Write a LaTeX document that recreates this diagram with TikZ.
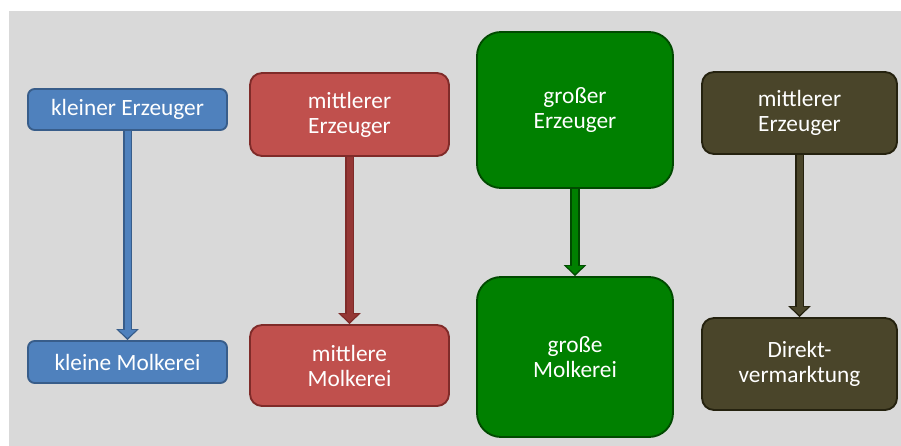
\documentclass[tikz,border=0pt]{standalone}
\usepackage{fontspec}
\setmainfont{Carlito}
\usetikzlibrary{arrows.meta,backgrounds}

\definecolor{bgGray}{HTML}{D9D9D9}
\definecolor{blueFill}{HTML}{4F81BD}
\definecolor{blueLine}{HTML}{385D8A}
\definecolor{redFill}{HTML}{C0504D}
\definecolor{redLine}{HTML}{7F2B29}
\definecolor{redArrow}{HTML}{953735}
\definecolor{greenFill}{HTML}{008000}
\definecolor{greenLine}{HTML}{004A00}
\definecolor{brownFill}{HTML}{4A452A}
\definecolor{brownLine}{HTML}{25220F}

\begin{document}
\begin{tikzpicture}[
    x=0.75pt, y=-0.75pt,
    box/.style={draw, line width=1.4pt, align=center, text=white, inner sep=0pt,
                font=\fontsize{17.5}{18.75}\selectfont},
    flow/.style 2 args={draw=#1, line width=4.5pt, shorten >=1.6pt,
                -{Triangle[width=12.75pt,length=6pt]},
                preaction={draw=#2, line width=7pt, shorten >=0pt,
                           -{Triangle[width=16.5pt,length=8.25pt]}}}
]
\useasboundingbox (0,0) rectangle (901,446);

% small producer
\node[box, fill=blueFill, draw=blueLine, rounded corners=5pt,
      minimum width=149.25pt, minimum height=30.75pt] (smallProd) at (127.5,109.5) {kleiner Erzeuger};
\node[box, fill=blueFill, draw=blueLine, rounded corners=5pt,
      minimum width=149.25pt, minimum height=31.5pt] (smallDairy) at (127.5,362) {kleine Molkerei};

% medium producer
\node[box, fill=redFill, draw=redLine, rounded corners=9pt,
      minimum width=149.25pt, minimum height=62.25pt] (midProd) at (349.5,114.5) {mittlerer\\Erzeuger};
\node[box, fill=redFill, draw=redLine, rounded corners=9pt,
      minimum width=149.25pt, minimum height=60.75pt] (midDairy) at (349.5,365.5) {mittlere\\Molkerei};

% large producer
\node[box, fill=greenFill, draw=greenLine, rounded corners=18pt,
      minimum width=147pt, minimum height=117pt] (bigProd) at (575,110) {großer\\Erzeuger};
\node[box, fill=greenFill, draw=greenLine, rounded corners=18pt,
      minimum width=147pt, minimum height=120pt] (bigDairy) at (575,357) {große\\Molkerei};

% direct marketing
\node[box, fill=brownFill, draw=brownLine, rounded corners=9pt,
      minimum width=146.25pt, minimum height=61.5pt] (dirProd) at (799.5,113) {mittlerer\\Erzeuger};
\node[box, fill=brownFill, draw=brownLine, rounded corners=9pt,
      minimum width=146.25pt, minimum height=69pt] (dirSale) at (799.5,364) {Direkt-\\vermarktung};

\draw[flow={blueFill}{blueLine}] (smallProd.south) -- (smallDairy.north);
\draw[flow={redArrow}{redLine}] (midProd.south) -- (midDairy.north);
\draw[flow={greenFill}{greenLine}] (bigProd.south) -- (bigDairy.north);
\draw[flow={brownFill}{brownLine}] (dirProd.south) -- (dirSale.north);

\begin{scope}[on background layer]
\fill[bgGray] (9,11) rectangle (901,446);
\end{scope}
\end{tikzpicture}
\end{document}
